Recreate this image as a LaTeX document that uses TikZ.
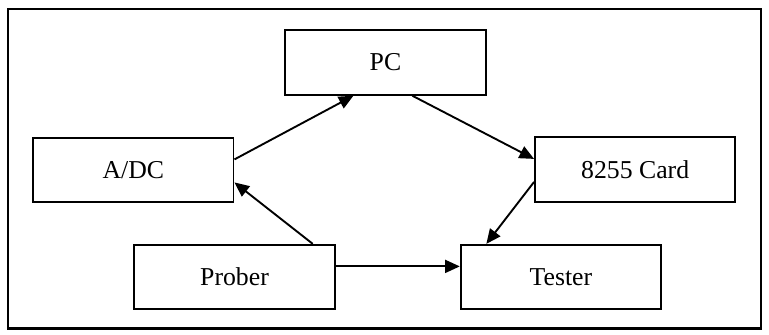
\documentclass[tikz,border=0pt]{standalone}
\usepackage{fontspec}
\setmainfont{Liberation Serif}
\usepackage{tikz}
\usetikzlibrary{arrows.meta}
\tikzstyle{block}=[draw=black,line width=1.1pt,minimum width=4.1cm,minimum height=1.32cm,inner sep=0pt,font=\fontsize{15}{18}\selectfont]
\tikzstyle{link}=[line width=1.1pt,-{Triangle[length=8.5pt,width=7.5pt]}]

\begin{document}
\begin{tikzpicture}[x=0.02cm,y=-0.02cm]
    \useasboundingbox (0,0) rectangle (787,342);
    \draw[line width=1.5pt] (8,9) rectangle (779,336);
    \node[block] (pc) at (394.5,64) {PC};
    \node[block] (adc) at (136.5,174) {A/DC};
    \node[block] (card) at (650,173.5) {8255 Card};
    \node[block] (prober) at (240,283.5) {Prober};
    \node[block] (tester) at (574,283.5) {Tester};
    \draw[link] (adc.6) -- (pc.226);
    \draw[link] (pc.-51) -- (card.174);
    \draw[link] (card.187) -- (tester.156);
    \draw[link] (prober.23) -- (adc.-7);
    \draw[link] (prober.6) -- (tester.174);
\end{tikzpicture}
\end{document}
